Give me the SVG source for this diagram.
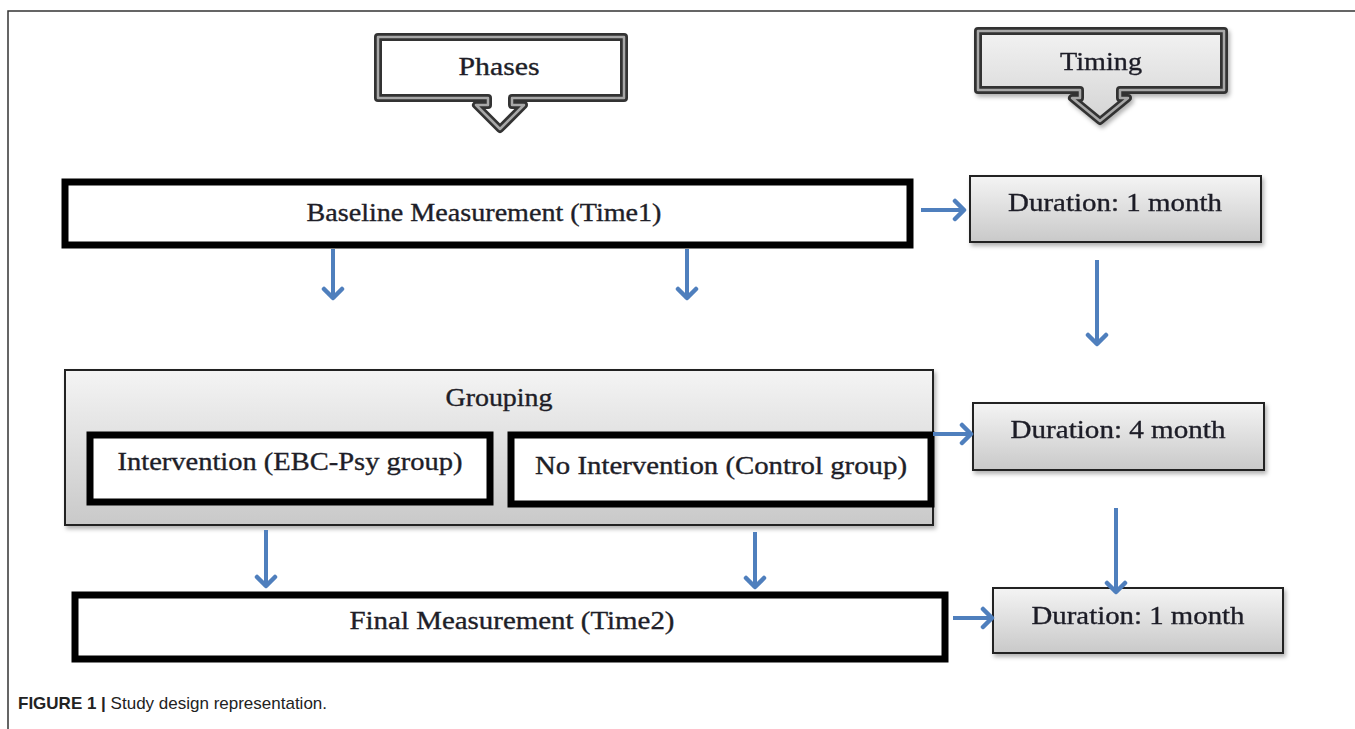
<svg xmlns="http://www.w3.org/2000/svg" width="1355" height="729" viewBox="0 0 1355 729">
<defs>
<linearGradient id="gGray" x1="0" y1="0" x2="0" y2="1">
<stop offset="0" stop-color="#f4f4f4"/>
<stop offset="1" stop-color="#c9c9c9"/>
</linearGradient>
<linearGradient id="gTiming" x1="0" y1="0" x2="0" y2="1">
<stop offset="0" stop-color="#f2f2f2"/>
<stop offset="1" stop-color="#d4d4d4"/>
</linearGradient>
<filter id="shadow" x="-5%" y="-10%" width="115%" height="130%">
<feDropShadow dx="2" dy="3" stdDeviation="2" flood-color="#000" flood-opacity="0.3"/>
</filter>
<marker id="ah" viewBox="-12 -12 16 24" markerWidth="16" markerHeight="24" refX="0" refY="0" orient="auto" markerUnits="userSpaceOnUse">
<path d="M-9,-9 L0,0 L-9,9" fill="none" stroke="#4f7fbd" stroke-width="4.5" stroke-linecap="round" stroke-linejoin="round"/>
</marker>
</defs>
<style>
.t{font-family:"Liberation Serif","DejaVu Serif",serif;font-size:25px;fill:#1e1e28;stroke:#1e1e28;stroke-width:0.35;text-anchor:middle;dominant-baseline:central}
.thick{fill:#fff;stroke:#000;stroke-width:7}
.dur{fill:url(#gGray);stroke:#222;stroke-width:2}
.callO{stroke:#333;stroke-width:8;stroke-linejoin:round}
.callI{fill:none;stroke:#a8a8a8;stroke-width:2.5;stroke-linejoin:round}
.conn{stroke:#4f7fbd;stroke-width:4;fill:none;marker-end:url(#ah)}
.cap{font-family:"Liberation Sans",Arial,sans-serif;font-size:17px;fill:#222}
</style>
<rect width="1355" height="729" fill="#fff"/>
<path d="M8,729 L8,11 L1355,11" fill="none" stroke="#333" stroke-width="1.5"/>

<g id="phases">
<path class="callO" fill="#fff" d="M378,37 L624,37 L624,98 L512,98 L512,105 L524,105 L500,129 L476,105 L488,105 L488,98 L378,98 Z"/>
<path class="callI" d="M378,37 L624,37 L624,98 L512,98 L512,105 L524,105 L500,129 L476,105 L488,105 L488,98 L378,98 Z"/>
<text class="t" x="499" y="66" font-size="26" textLength="81" lengthAdjust="spacingAndGlyphs">Phases</text>
</g>

<g id="timing" filter="url(#shadow)">
<path class="callO" fill="url(#gTiming)" d="M978,31 L1224,31 L1224,90 L1120,90 L1120,98 L1128,98 L1100,121 L1072,98 L1080,98 L1080,90 L978,90 Z"/>
<path class="callI" d="M978,31 L1224,31 L1224,90 L1120,90 L1120,98 L1128,98 L1100,121 L1072,98 L1080,98 L1080,90 L978,90 Z"/>
<text class="t" x="1101" y="61" font-size="26" textLength="82" lengthAdjust="spacingAndGlyphs">Timing</text>
</g>

<g id="baseline">
<rect class="thick" x="65" y="182" width="845" height="63"/>
<text class="t" x="484" y="212" textLength="355" lengthAdjust="spacingAndGlyphs">Baseline Measurement (Time1)</text>
</g>

<g id="dur1" filter="url(#shadow)">
<rect class="dur" x="970" y="176" width="291" height="66"/>
<text class="t" x="1115" y="202" textLength="214" lengthAdjust="spacingAndGlyphs">Duration: 1 month</text>
</g>

<g id="grouping">
<rect x="65" y="370" width="868" height="155" fill="url(#gGray)" stroke="#222" stroke-width="2" filter="url(#shadow)"/>
<text class="t" x="499" y="397" textLength="107" lengthAdjust="spacingAndGlyphs">Grouping</text>
</g>

<g id="intervention">
<rect class="thick" x="90" y="435" width="400" height="67"/>
<text class="t" x="290" y="461" textLength="345" lengthAdjust="spacingAndGlyphs">Intervention (EBC-Psy group)</text>
</g>

<g id="control">
<rect class="thick" x="511" y="435" width="420" height="69"/>
<text class="t" x="721" y="465" textLength="372" lengthAdjust="spacingAndGlyphs">No Intervention (Control group)</text>
</g>

<g id="dur4" filter="url(#shadow)">
<rect class="dur" x="973" y="403" width="291" height="67"/>
<text class="t" x="1118" y="429" textLength="215" lengthAdjust="spacingAndGlyphs">Duration: 4 month</text>
</g>

<g id="final">
<rect class="thick" x="75" y="595" width="870" height="64"/>
<text class="t" x="512" y="620" textLength="325" lengthAdjust="spacingAndGlyphs">Final Measurement (Time2)</text>
</g>

<g id="dur1b" filter="url(#shadow)">
<rect class="dur" x="993" y="588" width="290" height="65"/>
<text class="t" x="1138" y="615" textLength="213" lengthAdjust="spacingAndGlyphs">Duration: 1 month</text>
</g>

<g id="connectors">
<line class="conn" x1="921" y1="210" x2="964" y2="210"/>
<line class="conn" x1="333" y1="249" x2="333" y2="298"/>
<line class="conn" x1="687" y1="249" x2="687" y2="298"/>
<line class="conn" x1="1097" y1="260" x2="1097" y2="344"/>
<line class="conn" x1="933" y1="434" x2="971" y2="434"/>
<line class="conn" x1="1116" y1="508" x2="1116" y2="592"/>
<line class="conn" x1="266" y1="530" x2="266" y2="586"/>
<line class="conn" x1="755" y1="532" x2="755" y2="587"/>
<line class="conn" x1="953" y1="618" x2="992" y2="618"/>
</g>

<text class="cap" x="18" y="709"><tspan font-weight="bold">FIGURE 1 |</tspan> Study design representation.</text>
</svg>
